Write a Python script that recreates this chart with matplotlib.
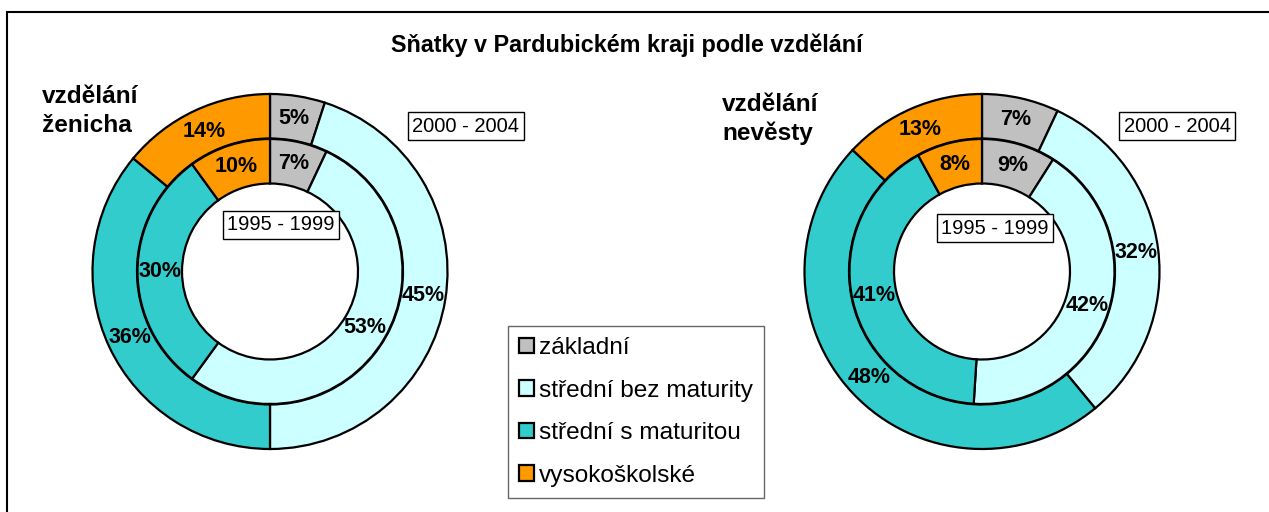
import matplotlib
matplotlib.use("Agg")
import matplotlib.pyplot as plt
from matplotlib.patches import Rectangle

plt.rcParams['font.family'] = ['Liberation Sans', 'DejaVu Sans']

# data
categories = ['základní', 'střední bez maturity', 'střední s maturitou', 'vysokoškolské']
colors = ['#C0C0C0', '#CCFFFF', '#33CCCC', '#FF9900']
groom_2000_2004 = [5, 45, 36, 14]
groom_1995_1999 = [7, 53, 30, 10]
bride_2000_2004 = [7, 32, 48, 13]
bride_1995_1999 = [9, 42, 41, 8]

W, H = 1269, 512
fig = plt.figure(figsize=(W / 100, H / 100), dpi=100)
ax = fig.add_axes([0, 0, 1, 1])


def py(y):
    # pixel row (from top) -> data y
    return H - y


def donut(cx, cy, outer, inner):
    R_out, R_in, w = 177.5, 132.5, 44.5
    wedge_kw = dict(width=w, edgecolor='black', linewidth=1.6)
    txt_kw = dict(fontsize=15.5, fontweight='bold', color='black')
    w_out, _, _ = ax.pie(outer, colors=colors, startangle=90, counterclock=False,
                         radius=R_out, center=(cx, py(cy)), wedgeprops=wedge_kw,
                         autopct='%.0f%%', pctdistance=(R_out - w / 2) / R_out,
                         textprops=txt_kw, frame=True)
    ax.pie(inner, colors=colors, startangle=90, counterclock=False,
           radius=R_in, center=(cx, py(cy)), wedgeprops=wedge_kw,
           autopct='%.0f%%', pctdistance=(R_in - w / 2) / R_in,
           textprops=txt_kw, frame=True)
    return w_out


handles = donut(270, 271.5, groom_2000_2004, groom_1995_1999)
donut(982, 271.5, bride_2000_2004, bride_1995_1999)

box = dict(boxstyle='square,pad=0.2', facecolor='white', edgecolor='black', linewidth=1)
for x, y, s in [(466, 126, '2000 - 2004'), (281, 225, '1995 - 1999'),
                (1177, 126, '2000 - 2004'), (995, 228, '1995 - 1999')]:
    ax.text(x, py(y), s, fontsize=14.5, ha='center', va='center', bbox=box)

ax.text(627, py(45), 'Sňatky v Pardubickém kraji podle vzdělání', fontsize=16.8,
        fontweight='bold', ha='center', va='center')
ax.text(42, py(111), 'vzdělání\nženicha', fontsize=17.6, fontweight='bold',
        ha='left', va='center', linespacing=1.3)
ax.text(722, py(119), 'vzdělání\nnevěsty', fontsize=17.6, fontweight='bold',
        ha='left', va='center', linespacing=1.3)

leg = ax.legend(handles, categories, loc='upper left',
                bbox_to_anchor=(508 / W, 1 - 326 / H), bbox_transform=fig.transFigure,
                fontsize=17.6, frameon=True, fancybox=False, edgecolor='#404040',
                handlelength=0.6, handleheight=0.6, handletextpad=0.2,
                labelspacing=0.84, borderpad=0.45, borderaxespad=0)
leg.get_frame().set_linewidth(1)

# outer chart frame
ax.add_patch(Rectangle((6.5, -20), W + 20, py(12) + 20, fill=False,
                       edgecolor='black', linewidth=1.5, clip_on=False))

ax.set_xlim(0, W)
ax.set_ylim(0, H)
ax.set_aspect('equal')
ax.axis('off')

fig.savefig('out.png', dpi=100)
